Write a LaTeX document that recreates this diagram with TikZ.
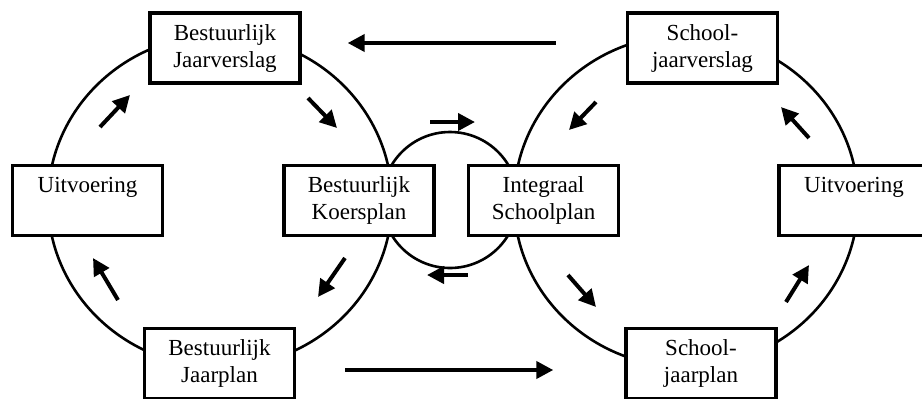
\documentclass[tikz,border=0pt]{standalone}
\usepackage{fontspec}
\setmainfont{Liberation Serif}
\usetikzlibrary{arrows.meta}

\tikzset{
  stap/.style={draw, line width=1.7pt, fill=white, minimum width=75pt, minimum height=35pt,
    inner sep=0pt, align=center, font=\fontsize{11.5}{13.5}\selectfont},
  kring/.style={line width=1.3pt},
  pijl/.style={line width=2pt, -{Triangle[length=8.5pt,width=8.5pt]}}
}

\begin{document}
\begin{tikzpicture}[x=0.5pt, y=-0.5pt]
	\useasboundingbox (0,0) rectangle (922,398);
	\clip (0,0) rectangle (922,398);

	% Kringen
	\draw[kring] (220,201) ellipse [x radius=172, y radius=166];
	\draw[kring] (450,200) circle [radius=68];
	\draw[kring] (686,201) ellipse [x radius=172, y radius=166];

	% Bestuur (links)
	\node[stap] (bjv)   at (225,48)      {Bestuurlijk\\Jaarverslag};
	\node[stap] (uitl)  at (87.5,200.5)  {Uitvoering\\\vphantom{g}};
	\node[stap] (koers) at (359,200.5)   {Bestuurlijk\\Koersplan};
	\node[stap] (bjp)   at (219.5,363.5) {Bestuurlijk\\Jaarplan};

	% School (rechts)
	\node[stap] (isp)   at (543.5,200.5) {Integraal\\Schoolplan};
	\node[stap] (sjv)   at (702.5,48)    {School-\\jaarverslag};
	\node[stap] (uitr)  at (854,200.5)   {Uitvoering\\\vphantom{g}};
	\node[stap] (sjp)   at (701,363.5)   {School-\\jaarplan};

	% Grote pijlen tussen de kringen
	\draw[pijl, shorten <=35pt, shorten >=23pt] ([yshift=2.5pt]sjv.west) -- ([yshift=2.5pt]bjv.east);
	\draw[pijl, shorten <=24.5pt, shorten >=35.5pt] ([yshift=-3.25pt]bjp.east) -- ([yshift=-3.25pt]sjp.west);

	% Pijltjes langs de kringen
	\foreach \xa/\ya/\xb/\yb in {100/127/130/95, 308/98/337/128, 345/258/318/297, 118/300/93/258,
		596/102/569/130, 809/138/781/107, 568/275/596/307, 786/302/809/265,
		430/122/475/122, 468/275/427/275} {
		\draw[pijl] (\xa,\ya) -- (\xb,\yb);
	}
\end{tikzpicture}
\end{document}
